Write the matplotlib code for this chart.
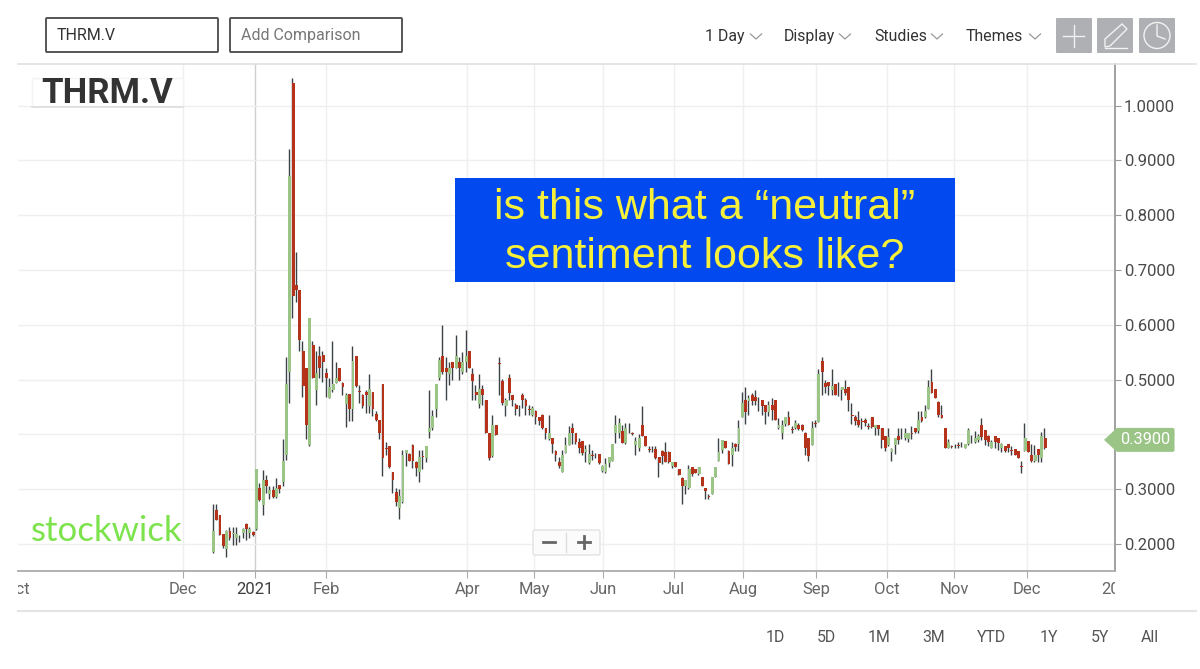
import numpy as np
import matplotlib
matplotlib.use("Agg")
import matplotlib.pyplot as plt
from matplotlib.patches import Rectangle, FancyBboxPatch, Polygon, Circle
from matplotlib.transforms import Bbox

plt.rcParams['font.family'] = ['Roboto', 'DejaVu Sans']

opens = [.185,.262,.252,.219,.191,.223,.219,.211,.214,.220,
.237,.220,.222,.227,.302,.272,.317,.292,.298,.286,
.308,.314,.362,.513,1.042,.673,.663,.553,.521,.381,
.563,.481,.543,.544,.512,.466,.481,.493,.522,.493,
.456,.473,.447,.543,.480,.472,.478,.451,.478,.437,
.427,.492,.375,.378,.332,.294,.265,.277,.366,.364,
.381,.350,.332,.360,.356,.405,.411,.446,.502,.543,
.521,.511,.533,.522,.533,.513,.533,.553,.511,.478,
.456,.482,.463,.402,.361,.417,.530,.497,.452,.502,
.472,.454,.445,.472,.463,.446,.435,.443,.431,.435,
.411,.391,.393,.370,.350,.332,.366,.381,.412,.402,
.387,.388,.367,.347,.362,.361,.364,.334,.332,.347,
.352,.402,.403,.407,.385,.410,.402,.381,.375,.417,
.397,.373,.372,.373,.358,.369,.367,.367,.343,.350,
.336,.321,.306,.302,.341,.336,.327,.322,.302,.287,
.291,.323,.352,.372,.388,.369,.363,.383,.382,.431,
.463,.461,.472,.469,.458,.463,.454,.441,.454,.463,
.411,.402,.419,.431,.409,.412,.417,.417,.403,.393,
.381,.420,.422,.534,.493,.496,.481,.492,.483,.481,
.482,.487,.435,.431,.426,.424,.426,.415,.431,.411,
.417,.411,.397,.381,.367,.381,.397,.401,.393,.392,
.402,.411,.407,.431,.431,.446,.496,.482,.459,.435,
.411,.376,.378,.379,.380,.381,.376,.382,.392,.386,
.390,.417,.408,.397,.376,.397,.393,.375,.378,.382,
.371,.373,.369,.342,.370,.388,.362,.352,.373,.356,.393]

highs = [.273,.273,.252,.219,.226,.231,.231,.231,.217,.229,
.238,.231,.223,.337,.311,.335,.326,.305,.306,.321,
.308,.392,.542,.921,1.050,.732,.664,.571,.521,.612,
.571,.552,.562,.552,.521,.503,.571,.532,.522,.495,
.476,.474,.562,.543,.490,.474,.481,.511,.478,.442,
.427,.492,.386,.378,.332,.302,.300,.372,.372,.366,
.382,.352,.372,.372,.378,.481,.445,.492,.542,.600,
.542,.533,.533,.581,.542,.551,.591,.553,.521,.490,
.510,.490,.463,.403,.435,.417,.542,.501,.466,.510,
.472,.457,.454,.476,.466,.454,.452,.445,.432,.437,
.411,.435,.393,.372,.359,.372,.396,.415,.420,.402,
.393,.388,.381,.382,.372,.366,.364,.344,.356,.358,
.383,.435,.429,.417,.421,.420,.405,.396,.401,.452,
.397,.378,.378,.378,.359,.372,.387,.369,.350,.350,
.336,.323,.317,.345,.341,.336,.341,.323,.302,.291,
.323,.341,.393,.389,.388,.372,.387,.384,.426,.478,
.486,.472,.475,.481,.469,.463,.454,.461,.467,.463,
.429,.426,.432,.443,.415,.426,.420,.419,.405,.393,
.425,.426,.520,.542,.500,.496,.519,.492,.496,.487,
.500,.487,.457,.435,.443,.429,.429,.420,.431,.417,
.417,.411,.397,.411,.375,.393,.411,.411,.411,.402,
.415,.411,.443,.443,.454,.500,.519,.482,.461,.454,
.411,.391,.381,.382,.387,.387,.382,.411,.399,.407,
.401,.429,.408,.399,.390,.397,.393,.384,.379,.382,
.378,.373,.369,.352,.420,.388,.382,.381,.373,.405,.411]

lows = [.183,.243,.216,.193,.177,.208,.199,.199,.203,.211,
.208,.211,.214,.226,.278,.253,.293,.282,.284,.284,
.293,.306,.354,.458,.613,.642,.553,.468,.392,.378,
.503,.453,.503,.495,.468,.466,.478,.493,.498,.472,
.414,.424,.424,.487,.457,.448,.439,.439,.433,.424,
.392,.324,.363,.338,.293,.269,.245,.274,.342,.352,
.338,.324,.314,.336,.349,.393,.408,.432,.499,.511,
.463,.490,.499,.521,.499,.511,.513,.522,.463,.462,
.448,.454,.403,.353,.359,.398,.472,.454,.434,.463,
.452,.435,.434,.448,.435,.435,.434,.419,.417,.409,
.391,.389,.366,.352,.338,.332,.366,.381,.383,.383,
.366,.363,.350,.346,.353,.356,.346,.332,.329,.340,
.352,.384,.393,.384,.383,.402,.399,.363,.369,.397,
.379,.367,.367,.355,.323,.346,.350,.347,.338,.341,
.325,.273,.291,.300,.324,.329,.326,.306,.283,.282,
.291,.323,.352,.366,.375,.346,.343,.369,.369,.431,
.419,.435,.454,.454,.443,.435,.419,.433,.427,.426,
.409,.391,.415,.417,.403,.409,.408,.407,.362,.352,
.381,.413,.422,.472,.476,.472,.472,.472,.470,.463,
.472,.443,.419,.417,.414,.409,.415,.409,.411,.399,
.399,.376,.369,.379,.352,.365,.382,.391,.390,.387,
.391,.403,.402,.423,.429,.446,.476,.466,.432,.429,
.375,.375,.375,.376,.376,.377,.376,.381,.384,.385,
.387,.390,.381,.378,.376,.376,.372,.368,.368,.368,
.362,.362,.356,.329,.370,.367,.350,.350,.350,.350,.373]

closes = [.223,.243,.216,.196,.223,.211,.220,.218,.215,.227,
.227,.227,.216,.337,.281,.317,.306,.298,.286,.302,
.300,.351,.492,.872,.652,.664,.573,.489,.417,.612,
.503,.512,.522,.532,.503,.487,.492,.503,.498,.486,
.472,.446,.534,.489,.478,.451,.472,.483,.446,.427,
.402,.357,.373,.341,.317,.276,.288,.363,.372,.352,
.352,.338,.358,.358,.378,.411,.434,.492,.535,.513,
.513,.521,.522,.543,.522,.533,.543,.522,.498,.471,
.482,.471,.403,.356,.417,.398,.528,.457,.463,.476,
.462,.446,.444,.462,.452,.445,.449,.432,.425,.411,
.403,.402,.382,.363,.342,.363,.381,.402,.402,.387,
.375,.366,.373,.364,.361,.360,.347,.343,.346,.358,
.383,.417,.421,.385,.411,.409,.401,.388,.393,.397,
.379,.372,.371,.356,.347,.361,.350,.350,.350,.341,
.326,.306,.316,.337,.328,.329,.341,.306,.296,.286,
.323,.341,.367,.389,.376,.346,.375,.377,.411,.458,
.441,.467,.461,.461,.457,.452,.441,.454,.444,.427,
.417,.417,.431,.417,.408,.421,.409,.408,.376,.361,
.412,.419,.511,.513,.486,.488,.488,.472,.482,.487,
.476,.462,.434,.425,.417,.423,.420,.414,.413,.417,
.409,.390,.376,.396,.373,.393,.390,.400,.402,.402,
.401,.405,.426,.425,.443,.487,.476,.466,.435,.429,
.375,.387,.377,.378,.379,.380,.382,.408,.391,.393,
.397,.396,.389,.387,.387,.387,.385,.382,.370,.375,
.370,.362,.356,.341,.393,.367,.352,.362,.362,.397,.375]

month_labels = ["Oct", "Dec", "2021", "Feb", "Apr", "May", "Jun", "Jul", "Aug", "Sep", "Oct", "Nov", "Dec", "2022"]
month_pos = [-59.2, -9.1, 12.5, 33.9, 76.3, 96.4, 117.1, 138.5, 159.2, 181.1, 202.5, 222.6, 244.6, 272.6]
price_ticks = [.2, .3, .4, .5, .6, .7, .8, .9, 1.0]
last_price = 0.39

ranges = ["1D", "5D", "1M", "3M", "YTD", "1Y", "5Y", "All"]
range_x = [775, 826, 879, 934, 992, 1049, 1100, 1150]
menus = ["1 Day", "Display", "Studies", "Themes"]
menu_x = [705, 784, 874, 966]
chevron_x = [756, 845, 937, 1035]

GREEN = "#9bc487"
RED = "#b5331b"
WICK = "#3c4144"
TXT = "#4a4a4a"

opens = np.array(opens)
closes = np.array(closes)
highs = np.array(highs)
lows = np.array(lows)
x = np.arange(len(opens))

fig = plt.figure(figsize=(12, 6.69), dpi=100)
ax = fig.add_axes([18/1200, (669-571)/669, (1115-18)/1200, (571-64)/669])
ax.set_xlim(-58.7, 271.0)
ax.set_ylim(0.1507, 1.0759)

for p, l in zip(month_pos, month_labels):
    if -58.7 < p < 271:
        ax.axvline(p, color="#cfcfcf" if l == "2021" else "#efefef", lw=1.0, zorder=1)
for t in price_ticks:
    ax.axhline(t, color="#efefef", lw=1.0, zorder=1)

ax.vlines(x - 0.2, lows, highs, color=WICK, lw=1.0, zorder=2)
bar_colors = [GREEN if c >= o else RED for o, c in zip(opens, closes)]
ax.bar(x, np.abs(closes - opens), bottom=np.minimum(opens, closes), width=0.85,
       color=bar_colors, linewidth=0, zorder=3)

for s in ["top", "left"]:
    ax.spines[s].set_visible(False)
ax.spines["right"].set_color("#9a9a9a")
ax.spines["right"].set_linewidth(1.3)
ax.spines["bottom"].set_color("#ababab")
ax.spines["bottom"].set_linewidth(1.3)

ax.yaxis.tick_right()
ax.set_yticks(price_ticks)
ax.set_yticklabels(["%.4f" % t for t in price_ticks], fontsize=12, color=TXT)
ax.tick_params(axis="y", length=4, width=0.8, color="#9a9a9a", pad=2.5)

visible = [(p, l) for p, l in zip(month_pos, month_labels)]
ax.set_xticks([p for p, l in visible if -58.7 < p < 271])
ax.set_xticklabels([])
ax.tick_params(axis="x", length=5, width=0.8, color="#ababab")
clip = Bbox([[18, 0], [1115, 669]])
for p, l in visible:
    t = ax.annotate(l, (p, 0), xycoords=("data", "axes fraction"), xytext=(0, -13.5),
                    textcoords="offset points", ha="center", va="center", fontsize=12,
                    color="#3d3d3d" if l == "2021" else "#666666", annotation_clip=False)
    t.set_clip_box(clip)
    t.set_clip_on(True)

# everything that is page furniture goes on an overlay in pixels
ui = fig.add_axes([0, 0, 1, 1], zorder=5)
ui.set_xlim(0, 1200)
ui.set_ylim(669, 0)
ui.axis("off")
ui.patch.set_alpha(0)

ui.plot([18, 1196], [63.5, 63.5], color="#e0e0e0", lw=1.2)
ui.plot([18, 1196], [611, 611], color="#e4e4e4", lw=1.5)

for bx, label, col in [(46, "THRM.V", "#333333"), (230, "Add Comparison", "#777777")]:
    ui.add_patch(FancyBboxPatch((bx, 18), 172, 34, boxstyle="round,pad=0,rounding_size=1",
                                fc="white", ec="#555555", lw=1.4))
    ui.text(bx + 11, 35.5, label, fontsize=11.5, color=col, va="center")

for mx, label, cx in zip(menu_x, menus, chevron_x):
    ui.text(mx, 36.5, label, fontsize=11.4, color="#333333", va="center")
    ui.plot([cx - 5.5, cx, cx + 5.5], [34, 39, 34], color="#999999", lw=0.9)

for bx in [1056, 1097, 1139]:
    ui.add_patch(FancyBboxPatch((bx, 18), 36, 35, boxstyle="round,pad=0,rounding_size=1",
                                fc="#aeb0b3", ec="none"))
ui.plot([1063, 1084], [36, 36], color="#f2f2f2", lw=1)
ui.plot([1073.5, 1073.5], [25, 47], color="#f2f2f2", lw=1)
ui.add_patch(Polygon([[1105, 39], [1122, 24], [1127, 29], [1110, 46], [1105, 47]], closed=True,
                     fc="none", ec="#f2f2f2", lw=1))
ui.plot([1105, 1127], [47.5, 47.5], color="#f2f2f2", lw=1)
ui.add_patch(Circle((1157, 35.5), 13, fc="none", ec="#f2f2f2", lw=1))
ui.plot([1157, 1157, 1165], [25, 36, 39], color="#f2f2f2", lw=1)

ui.add_patch(Rectangle((32, 78), 151, 28, fc="white", ec="#f3f3f3", lw=1))
ui.plot([32, 183], [106.5, 106.5], color="#dddddd", lw=1.2)
ui.text(107.5, 93.5, "THRM.V", fontsize=25, fontweight="bold", color="#333333",
        ha="center", va="center")

ui.add_patch(Rectangle((455, 178), 500, 104, fc="#0349f0", ec="none"))
ui.text(705, 208, "is this what a “neutral”", family="Liberation Sans", fontsize=31,
        color="#f6f03a", ha="center", va="center")
ui.text(705, 257.5, "sentiment looks like?", family="Liberation Sans", fontsize=31,
        color="#f6f03a", ha="center", va="center")

ui.text(31, 531, "stockwick", family="Lato", fontsize=25, color="#7ce34c", va="center")

ui.add_patch(FancyBboxPatch((533, 530), 67, 25, boxstyle="round,pad=0,rounding_size=2",
                            fc="#fbfbfb", ec="#e2e2e2", lw=1))
ui.plot([566, 566], [533, 552], color="#dddddd", lw=1)
ui.plot([543, 555], [542, 542], color="#666666", lw=2)
ui.plot([578, 590], [542, 542], color="#666666", lw=2)
ui.plot([584, 584], [536, 548], color="#666666", lw=2)

tag_y = 544 - (last_price - 0.2) * 548
ui.add_patch(Polygon([[1104, tag_y], [1117, tag_y - 12], [1173, tag_y - 12], [1174.5, tag_y - 11],
                      [1174.5, tag_y + 11], [1173, tag_y + 12], [1117, tag_y + 12]],
                     closed=True, fc=GREEN, ec="none"))
ui.text(1145, tag_y, "%.4f" % last_price, fontsize=11.8, color="white", ha="center", va="center")

for rx, label in zip(range_x, ranges):
    ui.text(rx, 638, label, fontsize=11.4, color="#555555", ha="center", va="center")

fig.savefig("out.png", dpi=100)
